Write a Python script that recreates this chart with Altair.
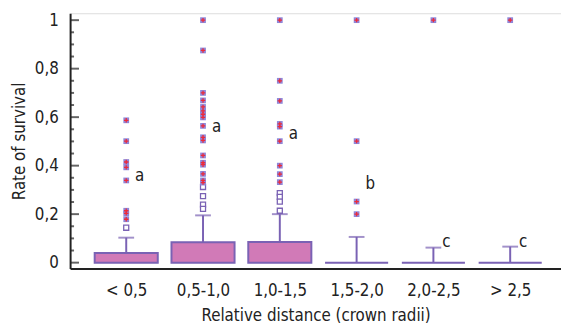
import altair as alt
import pandas as pd

categories = ["< 0,5", "0,5-1,0", "1,0-1,5", "1,5-2,0", "2,0-2,5", "> 2,5"]
q1 = [0, 0, 0, 0, 0, 0]
q3 = [0.04, 0.084, 0.085, 0, 0, 0]
upper = [0.103, 0.195, 0.2, 0.106, 0.062, 0.066]

outliers_far = [
    [0.587, 0.501, 0.415, 0.393, 0.339, 0.214, 0.203, 0.179],
    [1.0, 0.875, 0.70, 0.669, 0.642, 0.626, 0.612, 0.599, 0.564, 0.517, 0.504,
     0.442, 0.412, 0.404, 0.366, 0.339, 0.33],
    [1.0, 0.75, 0.667, 0.572, 0.561, 0.501, 0.4, 0.365, 0.332],
    [1.0, 0.501, 0.252, 0.2],
    [1.0],
    [1.0],
]
outliers_near = [
    [0.144],
    [0.312, 0.274, 0.239, 0.222],
    [0.287, 0.271, 0.252, 0.214],
    [], [], [],
]
letters = ["a", "a", "a", "b", "c", "c"]
letter_y = [0.355, 0.558, 0.531, 0.325, 0.084, 0.084]

major_ticks = [0, 0.2, 0.4, 0.6, 0.8, 1.0]
minor_ticks = [round(0.05 * i, 2) for i in range(21) if i % 4 != 0]

boxes = pd.DataFrame({"pos": list(range(6)), "q1": q1, "q3": q3, "upper": upper,
                      "letter": letters, "ly": letter_y})
far = pd.DataFrame([{"pos": i, "v": v} for i, vs in enumerate(outliers_far) for v in vs])
near = pd.DataFrame([{"pos": i, "v": v} for i, vs in enumerate(outliers_near) for v in vs])
maj = pd.DataFrame({"t": major_ticks})
mnr = pd.DataFrame({"t": minor_ticks})

XDOM = [-0.6667, 5.5975]
YDOM = [-0.0244, 1.0285]
FONT = "DejaVu Sans Condensed, Roboto Condensed, Roboto, sans-serif"
PURPLE = "#7a62b4"

label_arr = "[" + ",".join("'" + c + "'" for c in categories) + "]"

xs = alt.Scale(domain=XDOM, nice=False, zero=False)
ys = alt.Scale(domain=YDOM, nice=False, zero=False)

x_enc = alt.X("pos:Q", scale=xs, axis=alt.Axis(
    values=list(range(6)), labelExpr=label_arr + "[datum.value]",
    title="Relative distance (crown radii)", ticks=False, grid=False,
    domainColor="#222", domainWidth=2, labelFont=FONT, labelFontSize=17,
    labelColor="#222", labelPadding=14, titleFont=FONT, titleFontSize=17,
    titleFontWeight="normal", titleColor="#222", titlePadding=10))
y_enc = alt.Y("q1:Q", scale=ys, axis=alt.Axis(
    values=major_ticks, labelExpr="replace(format(datum.value, '~g'), '.', ',')",
    title="Rate of survival", ticks=False, grid=False,
    domainColor="#222", domainWidth=2, labelFont=FONT, labelFontSize=17,
    labelColor="#222", labelPadding=12, titleFont=FONT, titleFontSize=17,
    titleFontWeight="normal", titleColor="#222", titlePadding=6))

base = alt.Chart(boxes)

whisker = base.mark_rule(color=PURPLE, strokeWidth=2).encode(
    x=alt.X("pos:Q", scale=xs), y=alt.Y("q3:Q", scale=ys), y2="upper:Q")
cap = base.mark_tick(color=PURPLE, orient="horizontal", size=16, thickness=2).encode(
    x=alt.X("pos:Q", scale=xs), y=alt.Y("upper:Q", scale=ys))
box = base.mark_bar(size=64, fill="#d17ab7", stroke=PURPLE, strokeWidth=2).encode(
    x=x_enc, y=y_enc, y2="q3:Q")
text = base.mark_text(align="left", baseline="middle", dx=9, font=FONT,
                      fontSize=17, color="#222").encode(
    x=alt.X("pos:Q", scale=xs), y=alt.Y("ly:Q", scale=ys), text="letter:N")

near_pts = alt.Chart(near).mark_point(shape="square", size=26, filled=False,
                                      stroke=PURPLE, strokeWidth=1.3, fill="white",
                                      opacity=1).encode(
    x=alt.X("pos:Q", scale=xs), y=alt.Y("v:Q", scale=ys))
far_sq = alt.Chart(far).mark_point(shape="square", size=34, filled=True,
                                   color="#8e86d8", opacity=1).encode(
    x=alt.X("pos:Q", scale=xs), y=alt.Y("v:Q", scale=ys))
far_cross = alt.Chart(far).mark_point(shape="M-1,0H1M0,-1V1", size=20, filled=False,
                                      stroke="#ee2a3a", strokeWidth=1.3, opacity=1).encode(
    x=alt.X("pos:Q", scale=xs), y=alt.Y("v:Q", scale=ys))

maj_ticks = alt.Chart(maj).mark_tick(orient="horizontal", size=9, thickness=2,
                                     color="#222", xOffset=4.5).encode(
    x=alt.value(0), y=alt.Y("t:Q", scale=ys))
min_ticks = alt.Chart(mnr).mark_tick(orient="horizontal", size=4, thickness=2,
                                     color="#222", xOffset=2).encode(
    x=alt.value(0), y=alt.Y("t:Q", scale=ys))

chart = alt.layer(box, whisker, cap, near_pts, far_sq, far_cross, text,
                  maj_ticks, min_ticks).properties(
    width=498, height=259,
    autosize=alt.AutoSizeParams(type="none"),
    padding={"left": 63, "top": 3, "right": 0, "bottom": 60},
).configure_view(stroke=None).configure(background="white")

chart.save("out.html", embed_options={"renderer": "svg", "actions": False})
